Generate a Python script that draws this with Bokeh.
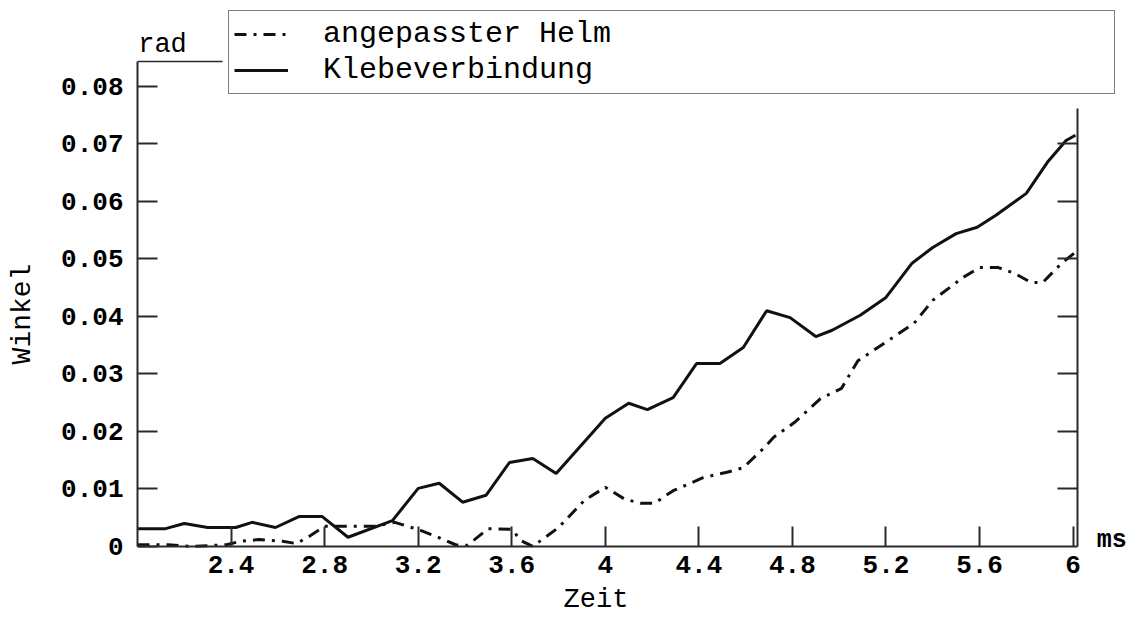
from bokeh.plotting import figure
from bokeh.models import (Range1d, LinearAxis, FixedTicker, PrintfTickFormatter,
                          Legend, LegendItem, Label, CustomLabelingPolicy)
from bokeh.embed import file_html
from bokeh.resources import INLINE

# ---- data ----
time_kleb = [2.00, 2.12, 2.20, 2.30, 2.42, 2.49, 2.59, 2.69, 2.79, 2.90, 3.09, 3.20,
             3.29, 3.39, 3.49, 3.59, 3.69, 3.79, 4.00, 4.10, 4.18, 4.29, 4.39, 4.49,
             4.59, 4.69, 4.79, 4.90, 4.97, 5.09, 5.20, 5.31, 5.40, 5.50, 5.59, 5.67,
             5.80, 5.89, 5.97, 6.01]
winkel_kleb = [0.0031, 0.0031, 0.0040, 0.0033, 0.0033, 0.0042, 0.0033, 0.0052, 0.0052,
               0.0016, 0.0045, 0.0101, 0.0110, 0.0077, 0.0089, 0.0146, 0.0153, 0.0127,
               0.0223, 0.0249, 0.0238, 0.0259, 0.0318, 0.0318, 0.0346, 0.0410, 0.0398,
               0.0365, 0.0376, 0.0402, 0.0433, 0.0492, 0.0520, 0.0544, 0.0555, 0.0576,
               0.0614, 0.0668, 0.0706, 0.0715]

time_helm = [2.00, 2.13, 2.23, 2.38, 2.44, 2.52, 2.62, 2.68, 2.74, 2.80, 2.89, 3.01,
             3.10, 3.21, 3.28, 3.36, 3.41, 3.50, 3.60, 3.64, 3.69, 3.80, 3.91, 4.00,
             4.08, 4.15, 4.21, 4.29, 4.42, 4.52, 4.59, 4.68, 4.72, 4.81, 4.92, 5.01,
             5.08, 5.18, 5.32, 5.40, 5.53, 5.60, 5.68, 5.75, 5.82, 5.87, 5.95, 6.02]
winkel_helm = [0.0003, 0.0003, 0.0, 0.0003, 0.0009, 0.0012, 0.0009, 0.0005, 0.0019,
               0.0035, 0.0035, 0.0035, 0.0042, 0.0028, 0.0017, 0.0003, 0.0002, 0.0031,
               0.0030, 0.0010, 0.0, 0.0033, 0.0080, 0.0103, 0.0083, 0.0075, 0.0075,
               0.0097, 0.0120, 0.0129, 0.0137, 0.0172, 0.0190, 0.0216, 0.0257, 0.0275,
               0.0323, 0.0350, 0.0388, 0.0428, 0.0468, 0.0485, 0.0485, 0.0475, 0.0459,
               0.0459, 0.0492, 0.0515]

x_ticks = [2.4, 2.8, 3.2, 3.6, 4.0, 4.4, 4.8, 5.2, 5.6, 6.0]
y_ticks = [0, 0.01, 0.02, 0.03, 0.04, 0.05, 0.06, 0.07, 0.08]
right_ticks = [0.01, 0.02, 0.03, 0.04, 0.05, 0.06, 0.07]
series_labels = ["angepasster Helm", "Klebeverbindung"]

# axis extents (data units)
X_AXIS_START, X_AXIS_END = 2.0, 6.02
Y_AXIS_TOP = 0.0843
RIGHT_AXIS_TOP = 0.0762
TOP_LINE_END = 2.363
RAD_SPAN_END = 2.214
ZEIT_X = 3.96
# plotting window (larger than the axes so legend and unit texts fit inside)
X_VIEW_END = 6.254
Y_VIEW_START, Y_VIEW_END = -0.01235, 0.0932

MONO = "Liberation Mono"
INK = "#111111"
AX = "#2a2a2a"

p = figure(width=1137, height=617, output_backend="svg", toolbar_location=None,
           x_range=Range1d(X_AXIS_START, X_VIEW_END),
           y_range=Range1d(Y_VIEW_START, Y_VIEW_END),
           x_axis_type=None, y_axis_type=None,
           min_border_left=137, min_border_right=5, min_border_top=10,
           min_border_bottom=0)
p.outline_line_color = None
p.xgrid.visible = False
p.ygrid.visible = False
p.background_fill_color = "white"
p.border_fill_color = "white"

NO_LABELS = CustomLabelingPolicy(code="""
for (const i of indices) { indices.unset(i) }
return indices
""")


def style_axis(ax, ticks, show_labels=True, tick_len=20):
    ax.ticker = FixedTicker(ticks=ticks)
    ax.formatter = PrintfTickFormatter(format="%g")
    ax.axis_line_color = AX
    ax.axis_line_width = 2
    ax.major_tick_line_color = AX
    ax.major_tick_line_width = 2
    ax.major_tick_in = tick_len
    ax.major_tick_out = 0
    ax.minor_tick_line_color = None
    ax.major_label_text_font = MONO
    ax.major_label_text_font_style = "bold"
    ax.major_label_text_color = "black"
    ax.major_label_text_font_size = "26px"
    if not show_labels:
        ax.major_label_policy = NO_LABELS
    ax.axis_label_text_font = MONO
    ax.axis_label_text_font_style = "normal"
    ax.axis_label_text_color = "black"
    ax.axis_label_text_font_size = "28px"


bottom = LinearAxis(bounds=(X_AXIS_START, X_AXIS_END), fixed_location=0)
style_axis(bottom, x_ticks)
bottom.major_label_standoff = 10
p.add_layout(bottom, "below")

left = LinearAxis(bounds=(0, Y_AXIS_TOP), axis_label="Winkel")
style_axis(left, y_ticks)
left.major_label_standoff = 14
left.axis_label_standoff = 20
p.add_layout(left, "left")

right = LinearAxis(bounds=(0, RIGHT_AXIS_TOP), fixed_location=X_AXIS_END)
style_axis(right, right_ticks, show_labels=False)
right.major_label_standoff = 0
p.add_layout(right, "right")

top = LinearAxis(bounds=(X_AXIS_START, TOP_LINE_END), fixed_location=Y_AXIS_TOP)
style_axis(top, [], show_labels=False, tick_len=0)
top.axis_line_width = 1.5
top.major_label_standoff = 0
p.add_layout(top, "above")

rad = LinearAxis(bounds=(X_AXIS_START, RAD_SPAN_END), fixed_location=Y_AXIS_TOP,
                 axis_label="rad")
style_axis(rad, [], show_labels=False, tick_len=0)
rad.axis_line_color = None
rad.major_label_standoff = 0
rad.axis_label_standoff = 2
rad.axis_label_text_font_size = "27px"
p.add_layout(rad, "above")

r_helm = p.line(time_helm, winkel_helm, line_color=INK, line_width=3,
                line_dash="12 7 3 7")
r_kleb = p.line(time_kleb, winkel_kleb, line_color=INK, line_width=3)

legend = Legend(items=[LegendItem(label=series_labels[0], renderers=[r_helm]),
                       LegendItem(label=series_labels[1], renderers=[r_kleb])],
                location=(91, 523), orientation="vertical",
                border_line_color="black", border_line_width=1.5,
                background_fill_color="white", background_fill_alpha=1.0,
                padding=5, spacing=0, margin=0,
                glyph_width=54, glyph_height=36, label_height=36,
                label_width=786, label_standoff=35,
                label_text_font=MONO, label_text_font_size="30px",
                label_text_color="black")
p.add_layout(legend)

p.add_layout(Label(x=X_AXIS_END, y=0, x_offset=19, y_offset=6, text="ms",
                   text_align="left", text_baseline="middle", text_font=MONO,
                   text_font_style="bold", text_font_size="25px", text_color="black"))
p.add_layout(Label(x=ZEIT_X, y=0, y_offset=-54, text="Zeit",
                   text_align="center", text_baseline="middle", text_font=MONO,
                   text_font_size="27px", text_color="black"))

open("out.html", "w").write(file_html(p, INLINE))
